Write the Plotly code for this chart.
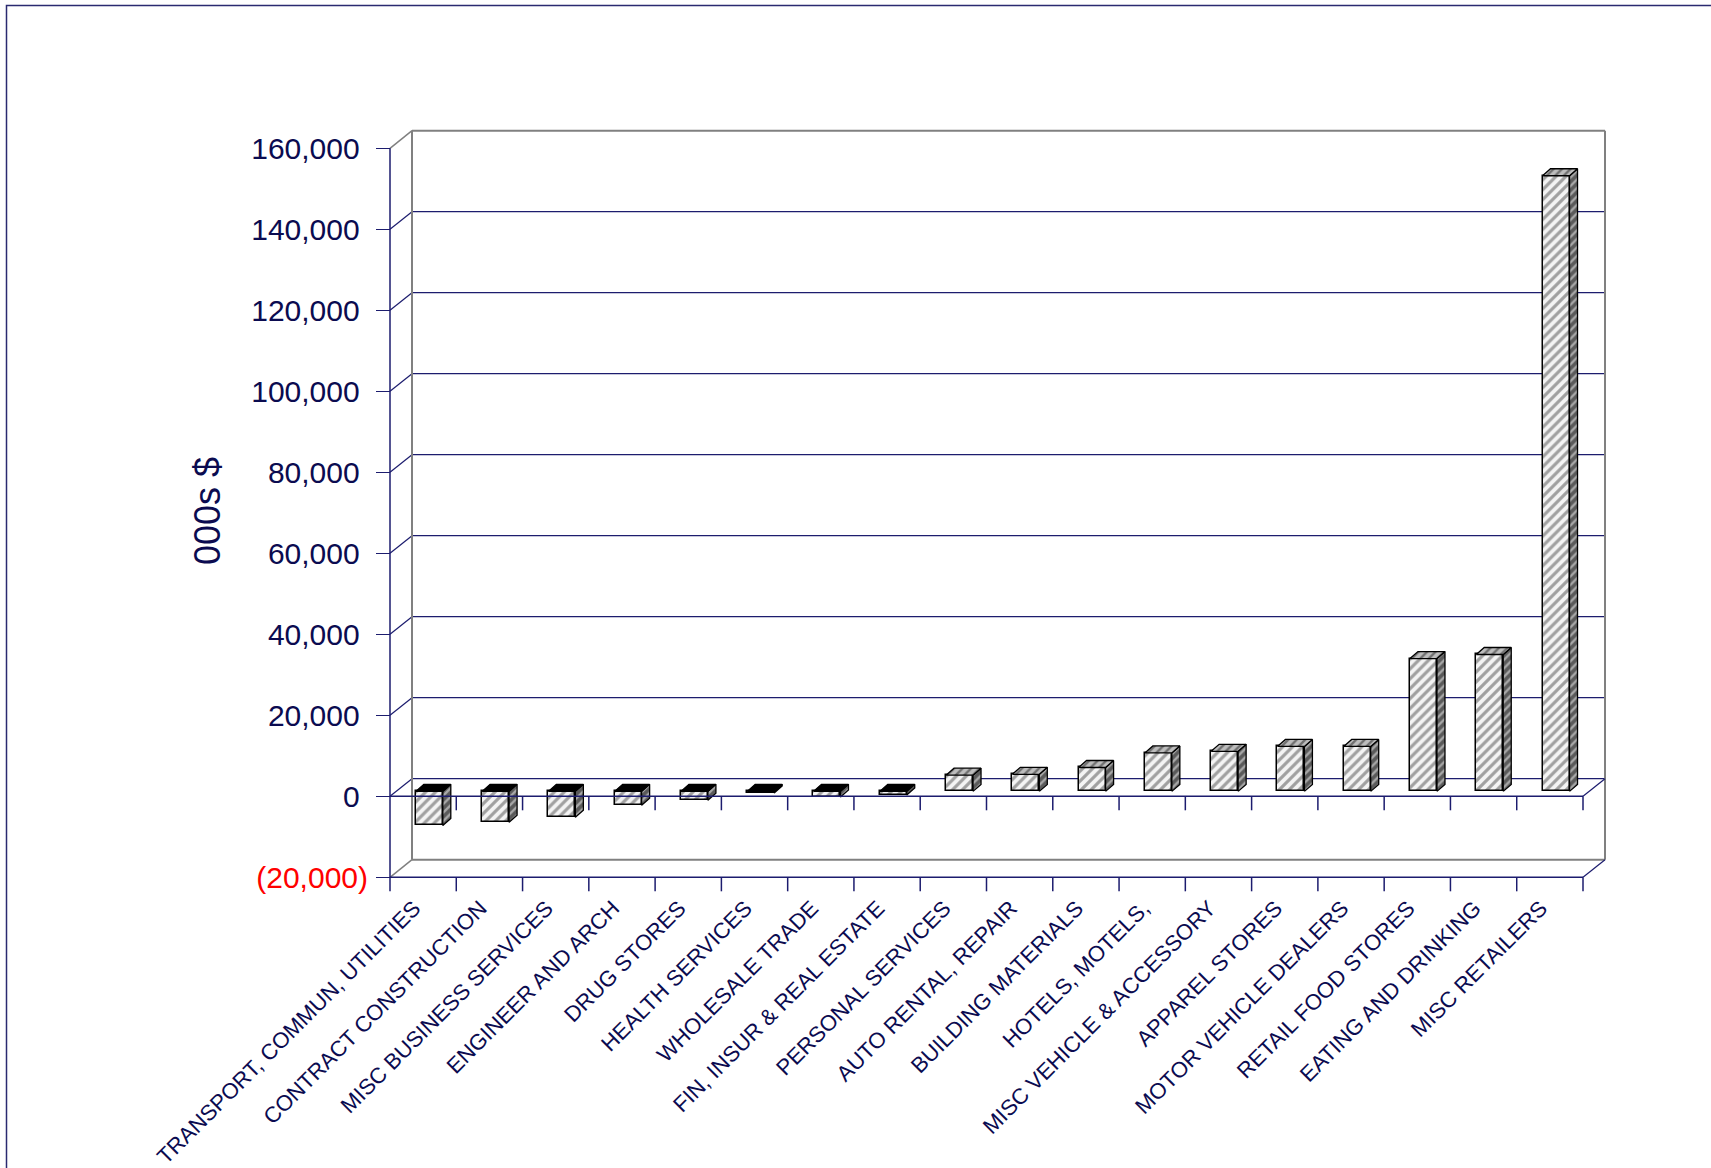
import plotly.graph_objects as go

# ---------------- data ----------------
categories = [
    "TRANSPORT, COMMUN, UTILITIES", "CONTRACT CONSTRUCTION", "MISC BUSINESS SERVICES",
    "ENGINEER AND ARCH", "DRUG STORES", "HEALTH SERVICES", "WHOLESALE TRADE",
    "FIN, INSUR & REAL ESTATE", "PERSONAL SERVICES", "AUTO RENTAL, REPAIR",
    "BUILDING MATERIALS", "HOTELS, MOTELS,", "MISC VEHICLE & ACCESSORY",
    "APPAREL STORES", "MOTOR VEHICLE DEALERS", "RETAIL FOOD STORES",
    "EATING AND DRINKING", "MISC RETAILERS",
]
values = [-8400, -7600, -6400, -3400, -2200, -400, -1400, -900,
          4000, 4200, 5900, 9500, 9900, 11100, 11100, 32800, 33800, 152000]
y_tick_values = [-20000, 0, 20000, 40000, 60000, 80000, 100000, 120000, 140000, 160000]
y_tick_labels = ["(20,000)", "0", "20,000", "40,000", "60,000", "80,000",
                 "100,000", "120,000", "140,000", "160,000"]
y_title = "000s $"

# ---------------- layout constants ----------------
W, H = 1711, 1168
FRONT_L_PX, FRONT_R_PX = 390.0, 1583.0
ZERO_PX = 796.3
PXY = 81.0 / 20000.0                     # pixels per value unit
n = len(categories)
CAT_PX = (FRONT_R_PX - FRONT_L_PX) / n   # pixels per category
x_range = [-0.5 - FRONT_L_PX / CAT_PX, -0.5 + (W - FRONT_L_PX) / CAT_PX]
y_range = [-(H - ZERO_PX) / PXY, ZERO_PX / PXY]

def dxu(px):
    return px / CAT_PX

def dvu(px):
    return px / PXY

DX, DY = dxu(22), dvu(17.6)      # wall depth
F = 0.28                          # depth of bar front face
BW = dxu(27)                      # bar width
SDX, SDY = dxu(8), dvu(7)         # bar depth
TICK = dvu(14)
LABEL_SHIFT = dxu(9)              # category label end offset (left of center)

XL, XR = -0.5, n - 0.5
VMIN, VMAX = y_tick_values[0], y_tick_values[-1]

NAVY = "#1c1c6e"
GRAY = "#808080"
TEXT = "#0b0b50"
FONT = "Liberation Sans, Arial, sans-serif"

fig = go.Figure()

# front faces
xs = [i + F * DX for i in range(n)]
base = F * DY
fig.add_trace(go.Bar(
    x=xs, y=values, base=[base] * n, width=BW,
    marker=dict(color="#eeeeee", line=dict(color="black", width=1.5),
                pattern=dict(shape="/", bgcolor="#f4f4f4", fgcolor="#a0a0a0",
                             size=7, solidity=0.45)),
    hoverinfo="skip",
))

# side & top faces
for i, v in enumerate(values):
    xl = xs[i] - BW / 2
    xr = xs[i] + BW / 2
    b = base
    t = base + v
    fig.add_trace(go.Scatter(
        x=[xr, xr, xr + SDX, xr + SDX, xr],
        y=[b, t, t + SDY, b + SDY, b],
        mode="lines", fill="toself", line=dict(color="black", width=1.3),
        fillcolor="#6a6a6a",
        fillpattern=dict(shape="/", bgcolor="#5a5a5a", fgcolor="#a8a8a8",
                         size=6, solidity=0.4),
        hoverinfo="skip",
    ))
    top = max(b, t)
    if v >= 0:
        kw = dict(fillcolor="#b0b0b0",
                  fillpattern=dict(shape="/", bgcolor="#bdbdbd", fgcolor="#707070",
                                   size=6, solidity=0.4))
    else:
        kw = dict(fillcolor="#000000")
    fig.add_trace(go.Scatter(
        x=[xl, xr, xr + SDX, xl + SDX, xl],
        y=[top, top, top + SDY, top + SDY, top],
        mode="lines", fill="toself", line=dict(color="black", width=1.3),
        hoverinfo="skip", **kw,
    ))

shapes = []

def line(x0, y0, x1, y1, color, width=1.2, layer="below"):
    shapes.append(dict(type="line", xref="x", yref="y", x0=x0, y0=y0, x1=x1, y1=y1,
                       line=dict(color=color, width=width), layer=layer))

# grid: diagonal + back wall lines
for v in y_tick_values:
    edge = v in (VMIN, VMAX)
    c = GRAY if edge else NAVY
    w = 2 if edge else 1.2
    line(XL, v, XL + DX, v + DY, c, 1.5 if edge else 1.2)
    line(XL + DX, v + DY, XR + DX, v + DY, c, w)
# back wall verticals
line(XL + DX, VMIN + DY, XL + DX, VMAX + DY, GRAY, 2)
line(XR + DX, VMIN + DY, XR + DX, VMAX + DY, GRAY, 2)
# front y axis
line(XL, VMIN, XL, VMAX, NAVY, 1.5, "above")
# bottom front axis
line(XL, VMIN, XR, VMIN, NAVY, 1.5, "above")
line(XR, VMIN, XR + DX, VMIN + DY, NAVY, 1.2, "above")
# zero front axis
line(XL, 0, XR, 0, NAVY, 1.5, "above")
line(XR, 0, XR + DX, DY, NAVY, 1.2, "above")
for k in range(n + 1):
    xb = XL + k
    line(xb, VMIN, xb, VMIN - TICK, NAVY, 1.5, "above")
    if k > 0:
        line(xb, 0, xb, -TICK, NAVY, 1.5, "above")

# outer border
shapes.append(dict(type="rect", xref="paper", yref="paper",
                   x0=6.5 / W, y0=1 - 5.5 / H, x1=1 + 10 / W, y1=-10 / H,
                   line=dict(color="#2a2a70", width=1.5), layer="above"))

# negative label hangs its ")" past the digits (accounting style alignment)
ticktext = [f'<span style="color:#ff0000">{t}</span>' if val < 0 else t + "\u00a0"
            for t, val in zip(y_tick_labels, y_tick_values)]

fig.update_layout(
    width=W, height=H, template="none",
    margin=dict(l=0, r=0, t=0, b=0, pad=0),
    paper_bgcolor="white", plot_bgcolor="white",
    showlegend=False, bargap=0,
    shapes=shapes,
    xaxis=dict(range=x_range, domain=[0, 1], anchor="free", position=1 - 877 / H,
               showline=False, showgrid=False, zeroline=False, ticks="",
               tickvals=[i - LABEL_SHIFT for i in range(n)], ticktext=categories,
               tickangle=-45,
               tickfont=dict(family=FONT, size=22, color=TEXT), automargin=False,
               ticklabelstandoff=13),
    yaxis=dict(range=y_range, domain=[0, 1], anchor="free", position=FRONT_L_PX / W,
               showline=False, showgrid=False, zeroline=False, ticks="outside",
               ticklen=14, tickwidth=1.2, tickcolor=NAVY,
               tickvals=y_tick_values, ticktext=ticktext,
               tickfont=dict(family=FONT, size=30, color=TEXT), automargin=False,
               ticklabelstandoff=2),
    annotations=[dict(text=y_title, xref="paper", yref="paper",
                      x=207 / W, y=1 - 511 / H, textangle=-90, showarrow=False,
                      font=dict(family=FONT, size=36, color=TEXT),
                      xanchor="center", yanchor="middle")],
)

fig.write_html("out.html")
